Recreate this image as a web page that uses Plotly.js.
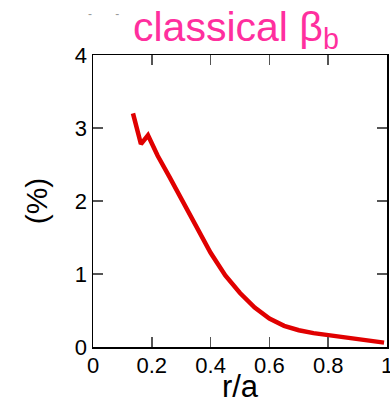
<!DOCTYPE html>
<html>
<head>
<meta charset="utf-8">
<script src="https://cdn.plot.ly/plotly-3.0.1.min.js"></script>
<style>html,body{margin:0;padding:0;background:#fff;}</style>
</head>
<body>
<div id="chart" style="width:390px;height:404px;"></div>
<script>
const rOverA = [0.136, 0.163, 0.187, 0.22, 0.26, 0.30, 0.35, 0.40, 0.45, 0.50, 0.55, 0.60, 0.65, 0.70, 0.75, 0.80, 0.85, 0.90, 0.95, 0.99];
const betaB = [3.2, 2.78, 2.9, 2.62, 2.33, 2.04, 1.68, 1.29, 0.98, 0.74, 0.54, 0.39, 0.29, 0.23, 0.19, 0.16, 0.13, 0.11, 0.08, 0.06];
const xTicks = [0, 0.2, 0.4, 0.6, 0.8, 1];
const xTickLabels = ['0', '0.2', '0.4', '0.6', '0.8', '1'];
const yTicks = [0, 1, 2, 3, 4];
const yTickLabels = ['0', '1', '2', '3', '4'];

const font = 'Liberation Sans, Arial, sans-serif';
const trace = {
  x: rOverA, y: betaB, mode: 'lines', type: 'scatter',
  line: {color: '#e00000', width: 4.5},
  hoverinfo: 'skip'
};
const layout = {
  width: 390, height: 404,
  margin: {l: 93, r: 3, t: 55, b: 57},
  paper_bgcolor: '#fff', plot_bgcolor: '#fff',
  showlegend: false,
  title: {
    text: 'classical β<sub>b</sub>',
    font: {family: font, size: 41, color: '#ff2f9e'},
    x: 0.605, xanchor: 'center', xref: 'container',
    y: 0.935, yanchor: 'middle', yref: 'container'
  },
  xaxis: {
    range: [0, 1], tickvals: xTicks, ticktext: xTickLabels,
    ticks: 'inside', ticklen: 10, tickwidth: 1.5, tickcolor: '#555',
    showline: true, linecolor: '#000', linewidth: 1.5, mirror: 'ticks',
    showgrid: false, zeroline: false, ticklabeloverflow: 'allow',
    ticklabelstandoff: -2,
    tickfont: {family: font, size: 22, color: '#000'},
    title: {text: 'r/a', font: {family: font, size: 31, color: '#000'}, standoff: 2}
  },
  yaxis: {
    range: [0, 4], tickvals: yTicks, ticktext: yTickLabels,
    ticks: 'inside', ticklen: 10, tickwidth: 1.5, tickcolor: '#555',
    showline: true, linecolor: '#000', linewidth: 1.5, mirror: 'ticks',
    showgrid: false, zeroline: false,
    tickfont: {family: font, size: 22, color: '#000'},
    title: {text: '(%)', font: {family: font, size: 30, color: '#000'}, standoff: 18}
  },
  annotations: [{
    text: '-&nbsp;&nbsp;&nbsp;&nbsp;&nbsp;&nbsp;&nbsp;-', xref: 'paper', yref: 'paper',
    x: -0.025, y: 1.14, xanchor: 'left', yanchor: 'middle', showarrow: false,
    font: {family: font, size: 12, color: '#999'}
  }]
};
Plotly.newPlot('chart', [trace], layout, {displayModeBar: false, staticPlot: true});
</script>
</body>
</html>
